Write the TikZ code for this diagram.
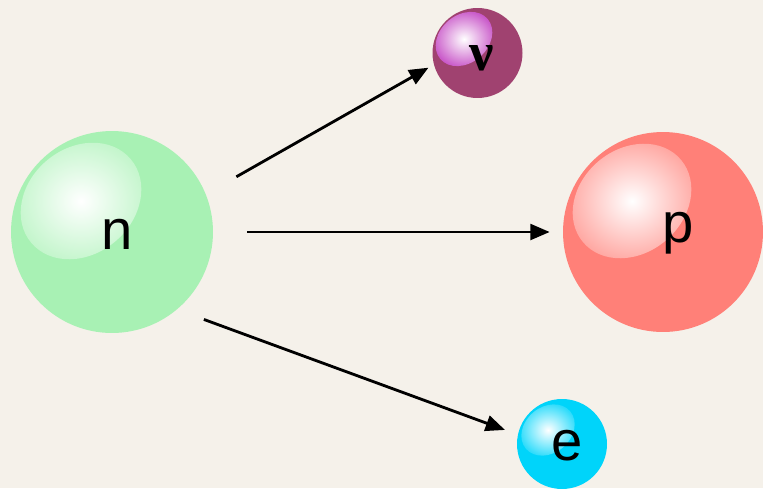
\documentclass[tikz,border=0pt]{standalone}
\usepackage{fontspec}
\setmainfont{Liberation Sans}
\newfontfamily\greekfont{Liberation Serif}
\usetikzlibrary{arrows.meta}

\definecolor{paper}{RGB}{245,241,234}
\definecolor{ncol}{RGB}{168,241,180}
\definecolor{pcol}{RGB}{255,128,120}
\definecolor{nucol}{RGB}{160,66,112}
\definecolor{nushine}{RGB}{200,85,200}
\definecolor{ecol}{RGB}{0,212,250}

\tikzset{
  ball/.style={circle, inner sep=0pt, draw=none},
  tag/.style={anchor=base, inner sep=0pt, font=\fontsize{32}{32}\selectfont},
  decay/.style={line width=1.6pt, -{Triangle[length=11pt,width=9pt]}}
}

\begin{document}
\begin{tikzpicture}[x=0.02cm, y=0.02cm]
      \useasboundingbox (0,0) rectangle (763,488);
      \fill[paper] (0,0) rectangle (763,488);

      % the four particles
      \node (n) at (112,256)  [ball, fill=ncol, minimum size=4.04cm] {};
      \node (p) at (663,256)  [ball, fill=pcol, minimum size=4cm] {};
      \node (nu) at (477.5,435)  [ball, fill=nucol, minimum size=1.8cm] {};
      \node (e) at (562,44)  [ball, fill=ecol, minimum size=1.8cm] {};

      % shine on each ball
      \shade[inner color=white, outer color=ncol!70!white, rotate around={40:(81,287)}] (81,287) ellipse [x radius=65, y radius=53];
      \shade[inner color=white, outer color=pcol!70!white, rotate around={40:(632,287)}] (632,287) ellipse [x radius=64, y radius=52];
      \shade[inner color=white, outer color=nushine, rotate around={40:(464,449)}] (464,449) ellipse [x radius=31, y radius=24];
      \shade[inner color=white, outer color=ecol!85!white, rotate around={40:(548,58)}] (548,58) ellipse [x radius=29, y radius=23];

      \node (nlab) at (117,239)  [tag] {n};
      \node (plab) at (678,246)  [tag] {p};
      \node (nulab) at (482,418)  [tag, font=\fontsize{31}{31}\selectfont\greekfont\bfseries] {ν};
      \node (elab) at (567,28)  [tag] {e};

      % decay products
      \draw[decay, shorten <=0.7cm, shorten >=0.12cm] (n.22) to (nu.195);
      \draw[decay, shorten <=0.68cm, shorten >=0.26cm] (n.east) to (p.west);
      \draw[decay, shorten <=0.57cm, shorten >=0.27cm] (n.-50) to (e.168);
    \end{tikzpicture}
\end{document}
